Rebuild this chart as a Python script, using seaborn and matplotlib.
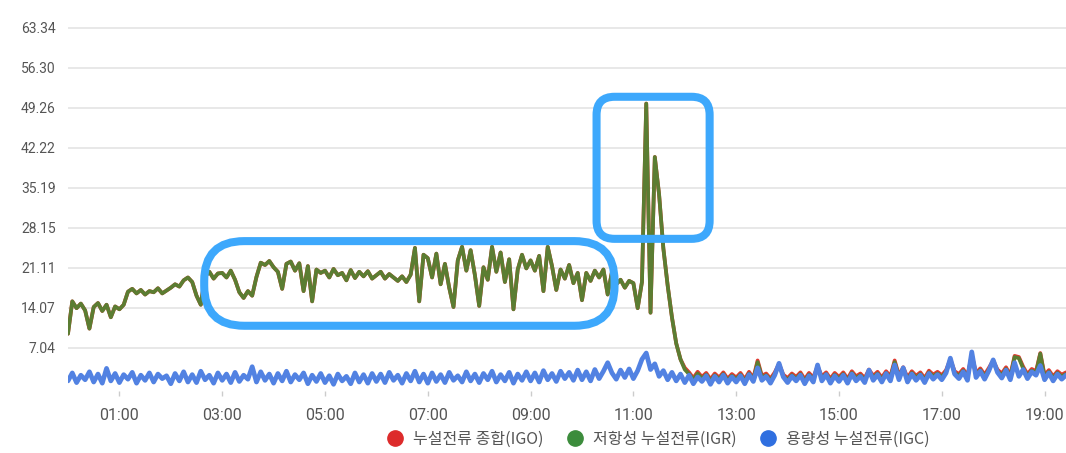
import pandas as pd
import matplotlib.pyplot as plt
import matplotlib.dates as mdates
from matplotlib.patches import FancyBboxPatch
from matplotlib.lines import Line2D
from matplotlib.transforms import IdentityTransform
import seaborn as sns

# 5-minute samples from 00:00 to 19:25

# 저항성 누설전류 (IGR)
igr = (
    [9.5, 15.2, 14.0, 14.8, 13.6, 10.4, 14.2, 14.9, 13.5, 14.6, 12.4, 14.3]      # 00
    + [13.8, 14.6, 16.9, 17.4, 16.6, 17.2, 16.4, 17.0, 16.8, 17.5, 16.6, 17.1]   # 01
    + [17.6, 18.2, 17.8, 18.9, 19.4, 18.6, 16.2, 14.6, 19.6, 20.4, 19.2, 20.1]   # 02
    + [20.2, 19.4, 20.6, 19.0, 16.8, 15.8, 17.0, 16.2, 19.5, 22.0, 21.6, 22.3]   # 03
    + [21.2, 20.4, 17.4, 21.8, 22.2, 20.6, 21.9, 17.0, 21.4, 15.2, 20.8, 20.2]   # 04
    + [20.6, 19.4, 20.9, 19.8, 20.2, 18.9, 20.7, 19.3, 20.4, 19.6, 20.5, 19.2]   # 05
    + [19.8, 20.4, 19.2, 20.0, 19.4, 18.8, 19.6, 18.6, 19.9, 24.6, 15.2, 23.4]   # 06
    + [22.8, 19.4, 23.6, 18.2, 21.8, 17.6, 14.2, 22.4, 24.8, 20.6, 24.2, 19.8]   # 07
    + [14.4, 21.2, 19.0, 24.8, 20.4, 23.8, 18.6, 22.6, 13.8, 20.8, 23.4, 21.0]   # 08
    + [22.4, 20.6, 23.2, 17.0, 24.8, 21.4, 17.2, 20.8, 19.2, 21.6, 18.4, 20.2]   # 09
    + [15.4, 20.2, 18.8, 20.6, 19.4, 20.8, 16.4, 20.4, 18.2, 19.0, 17.6, 18.8]   # 10
    + [18.4, 14.0, 18.6, 50.0, 13.2, 40.6, 34.0, 24.5, 18.0, 12.4, 7.8, 5.0]     # 11
    + [3.2, 2.4, 1.4, 2.5, 1.6, 2.3, 1.2, 2.2, 1.5, 2.4, 1.3, 2.1]               # 12
    + [1.5, 2.3, 1.2, 2.5, 1.4, 4.5, 1.8, 2.2, 1.3, 2.4, 4.0, 2.0]               # 13
    + [1.4, 2.2, 1.6, 2.4, 1.2, 2.3, 1.5, 3.6, 1.7, 2.4, 1.3, 2.3]               # 14
    + [1.6, 2.4, 1.3, 2.6, 1.7, 2.2, 1.4, 2.9, 1.8, 2.5, 1.5, 2.6]               # 15
    + [1.7, 4.5, 1.9, 3.3, 1.5, 2.6, 1.8, 2.4, 1.4, 2.7, 2.0, 2.5]               # 16
    + [1.9, 2.8, 4.8, 2.6, 2.1, 3.0, 1.8, 5.6, 2.3, 3.1, 2.0, 3.2]               # 17
    + [4.6, 2.9, 2.2, 3.3, 1.9, 5.4, 5.2, 3.4, 2.1, 3.0, 2.6, 6.0]               # 18
    + [1.9, 2.8, 1.7, 2.6, 2.0, 2.4]                                             # 19
)

# 누설전류 종합 (IGO): same as IGR until noon, slightly above it afterwards
igo = (
    igr[:144]
    + [3.5, 2.7, 1.7, 2.8, 1.9, 2.6, 1.5, 2.5, 1.8, 2.7, 1.6, 2.4]               # 12
    + [1.8, 2.6, 1.5, 2.8, 1.7, 4.8, 2.1, 2.5, 1.6, 2.7, 4.2, 2.3]               # 13
    + [1.7, 2.5, 1.9, 2.7, 1.5, 2.6, 1.8, 3.8, 2.0, 2.7, 1.6, 2.6]               # 14
    + [1.9, 2.7, 1.6, 2.9, 2.0, 2.5, 1.7, 3.2, 2.1, 2.8, 1.8, 2.9]               # 15
    + [2.0, 4.8, 2.2, 3.6, 1.8, 2.9, 2.1, 2.7, 1.7, 3.0, 2.3, 2.8]               # 16
    + [2.2, 3.1, 5.0, 2.9, 2.4, 3.3, 2.1, 5.8, 2.6, 3.4, 2.3, 3.5]               # 17
    + [4.8, 3.2, 2.5, 3.6, 2.2, 5.6, 5.4, 3.7, 2.4, 3.3, 2.9, 6.1]               # 18
    + [2.2, 3.1, 2.0, 2.9, 2.3, 2.7]                                             # 19
)

# 용량성 누설전류 (IGC)
igc = (
    [1.2, 2.6, 0.9, 2.2, 1.4, 2.8, 1.0, 2.4, 0.8, 3.4, 1.2, 2.5]                 # 00
    + [0.9, 2.3, 1.5, 2.7, 0.8, 2.2, 1.3, 2.6, 1.0, 2.4, 1.6, 2.1]               # 01
    + [0.7, 2.5, 1.2, 2.8, 1.0, 2.3, 0.9, 2.9, 1.4, 2.2, 0.8, 2.6]               # 02
    + [1.3, 2.4, 0.9, 2.7, 1.1, 2.2, 1.5, 3.7, 1.0, 2.8, 1.3, 2.4]               # 03
    + [0.8, 2.5, 1.2, 2.9, 1.0, 2.3, 1.4, 2.6, 0.7, 2.2, 1.1, 2.5]               # 04
    + [0.9, 2.1, 0.6, 2.4, 1.2, 2.0, 0.7, 2.6, 1.0, 2.3, 0.8, 2.5]               # 05
    + [1.1, 2.4, 0.9, 2.7, 1.3, 2.2, 0.8, 2.5, 1.2, 2.9, 1.0, 2.4]               # 06
    + [0.8, 2.6, 1.1, 2.3, 0.9, 2.7, 1.3, 2.1, 1.0, 2.8, 1.2, 2.4]               # 07
    + [0.9, 2.5, 1.4, 2.9, 1.0, 2.3, 1.2, 2.7, 0.8, 2.4, 1.3, 2.8]               # 08
    + [1.2, 2.6, 1.0, 3.0, 1.4, 2.5, 1.1, 2.9, 1.6, 2.7, 1.3, 3.1]               # 09
    + [1.4, 2.8, 1.2, 3.2, 1.6, 2.9, 4.4, 2.6, 1.5, 3.1, 1.8, 3.3]               # 10
    + [1.6, 3.0, 5.0, 6.1, 3.2, 4.2, 2.0, 3.0, 1.4, 2.7, 1.2, 2.4]               # 11
    + [0.9, 2.2, 0.7, 1.9, 1.1, 2.1, 0.6, 2.0, 1.0, 2.2, 0.8, 1.9]               # 12
    + [1.0, 2.1, 0.7, 2.3, 1.1, 3.5, 1.3, 2.0, 0.8, 2.2, 4.3, 1.9]               # 13
    + [0.9, 2.0, 1.2, 2.2, 0.7, 2.1, 1.0, 4.0, 1.2, 2.3, 0.8, 2.1]               # 14
    + [1.1, 2.2, 0.8, 2.4, 1.2, 2.0, 0.9, 3.1, 1.3, 2.3, 1.0, 2.5]               # 15
    + [1.2, 4.0, 1.4, 3.5, 1.0, 2.4, 1.3, 2.2, 0.9, 2.5, 1.5, 2.3]               # 16
    + [1.4, 2.6, 5.2, 2.4, 1.6, 2.8, 1.3, 6.3, 1.8, 2.9, 1.5, 3.0]               # 17
    + [4.9, 2.7, 1.7, 3.1, 1.4, 4.4, 2.0, 3.2, 1.6, 2.8, 2.2, 3.9]               # 18
    + [1.4, 2.6, 1.2, 2.4, 1.5, 2.2]                                             # 19
)

y_ticks = [7.04, 14.07, 21.11, 28.15, 35.19, 42.22, 49.26, 56.30, 63.34]
y_labels = ['7.04', '14.07', '21.11', '28.15', '35.19', '42.22', '49.26', '56.30', '63.34']
series_names = ['누설전류 종합(IGO)', '저항성 누설전류(IGR)', '용량성 누설전류(IGC)']
legend_colors = ['#dd2b2b', '#3c8c3c', '#2f6fe0']
line_colors = ['#e03a30', '#5b7d32', '#5282e2']
line_widths = [2.7, 2.7, 3.4]

# highlight boxes (start time, end time, low value, high value, corner radius px)
boxes = [
    ('02:39', '10:38', 10.9, 25.8, 40),
    ('10:17', '12:29', 26.2, 51.2, 18),
]

times = pd.date_range('2024-01-01 00:00', periods=len(igr), freq='5min')
df = pd.DataFrame({'time': times, 'IGO': igo, 'IGR': igr, 'IGC': igc})

sns.set_theme(style='white')
plt.rcParams['font.family'] = ['Noto Sans CJK KR', 'DejaVu Sans']

fig = plt.figure(figsize=(10.66, 4.53), dpi=100)
ax = fig.add_axes([68 / 1066, 0.1366, 998 / 1066, 0.8354])

for col, c, w in zip(['IGO', 'IGR', 'IGC'], line_colors, line_widths):
    sns.lineplot(data=df, x='time', y=col, color=c, lw=w, estimator=None, ax=ax)

ax.set_ylim(-0.6, 66)
ax.set_xlim(times[0], times[-1])
ax.set_yticks(y_ticks)
ax.set_yticklabels(y_labels)
ax.grid(axis='y', color='#e6e6e6', lw=1.3)
ax.set_axisbelow(True)
ax.xaxis.set_major_locator(mdates.HourLocator(byhour=range(1, 20, 2)))
ax.xaxis.set_major_formatter(mdates.DateFormatter('%H:%M'))
ax.tick_params(axis='y', length=0, pad=9, labelsize=10, labelcolor='#555555')
ax.tick_params(axis='x', length=3.5, width=1, color='#cccccc', pad=9,
               labelsize=11.5, labelcolor='#555555', bottom=True)
for lbl in ax.get_xticklabels() + ax.get_yticklabels():
    lbl.set_fontfamily('Roboto')
ax.set_xlabel('')
ax.set_ylabel('')
sns.despine(ax=ax, left=True, bottom=True)

# rounded highlight boxes, drawn in pixel space so the corners stay round
for t0, t1, v0, v1, r in boxes:
    x0 = mdates.date2num(pd.Timestamp('2024-01-01 ' + t0))
    x1 = mdates.date2num(pd.Timestamp('2024-01-01 ' + t1))
    (px0, py0), (px1, py1) = ax.transData.transform([(x0, v0), (x1, v1)])
    box = FancyBboxPatch((px0, py0), px1 - px0, py1 - py0,
                         boxstyle=f'round,pad=0,rounding_size={r}',
                         fill=False, ec='#3da8fc', lw=5.8,
                         transform=IdentityTransform())
    fig.add_artist(box)

handles = [Line2D([], [], ls='', marker='o', markersize=11, color=c) for c in legend_colors]
fig.legend(handles, series_names, loc='center', bbox_to_anchor=(0.614, 0.03),
           ncol=3, frameon=False, fontsize=11.5, handletextpad=0.1,
           columnspacing=1.0, labelcolor='#555555')

plt.savefig('out.png', dpi=100)
